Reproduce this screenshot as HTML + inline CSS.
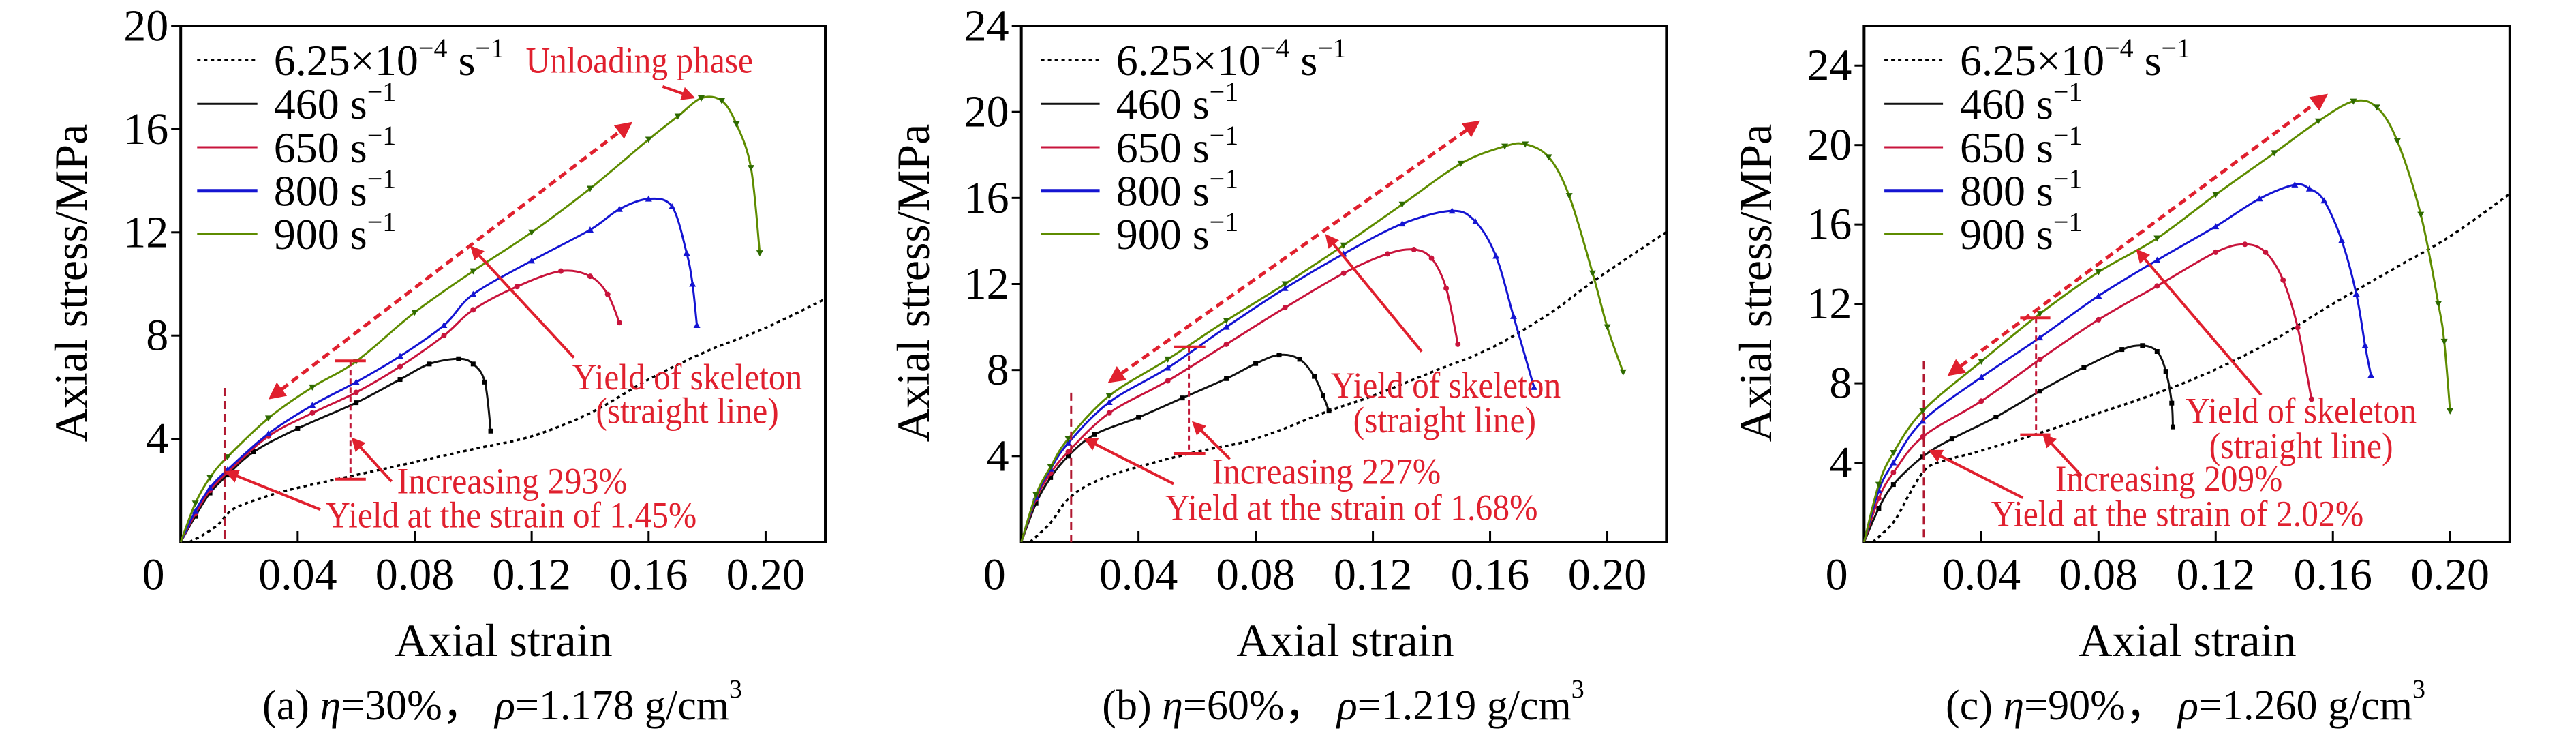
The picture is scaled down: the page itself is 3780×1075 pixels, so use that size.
<!DOCTYPE html>
<html><head><meta charset="utf-8">
<style>
html,body{margin:0;padding:0;background:#fff;}
svg{display:block;}
svg text{font-family:"Liberation Serif","Times New Roman",serif !important;}
</style></head>
<body>
<svg id="fig" xmlns="http://www.w3.org/2000/svg" width="3780" height="1075" viewBox="0 0 3780 1075" font-family="Liberation Serif, serif">
<defs>
<marker id="ah" viewBox="0 0 10 10" refX="8" refY="5" markerWidth="5" markerHeight="5" orient="auto-start-reverse"><path d="M0,0 L10,5 L0,10 z" fill="#e0202e"/></marker>
</defs>
</svg>
<script>
// ---------- data (strain, stress MPa) ----------
const seriesNames = ["6.25×10⁻⁴ s⁻¹","460 s⁻¹","650 s⁻¹","800 s⁻¹","900 s⁻¹"];
const xTicks = [0.04,0.08,0.12,0.16,0.20];
const xTickLabels = ["0.04","0.08","0.12","0.16","0.20"];
const yTicksA = [4,8,12,16,20];
const yTicksB = [4,8,12,16,20,24];
const yTicksC = [4,8,12,16,20,24];

const aQS  = [[0.003,0],[0.008,0.3],[0.013,0.7],[0.016,1.1],[0.02,1.4],[0.03,1.8],[0.04,2.1],[0.06,2.6],[0.08,3.1],[0.1,3.6],[0.12,4.1],[0.14,5.0],[0.16,6.3],[0.18,7.4],[0.2,8.3],[0.22,9.4]];
const a460 = [[0,0],[0.005,1.0],[0.01,1.9],[0.016,2.6],[0.025,3.5],[0.04,4.4],[0.06,5.4],[0.075,6.3],[0.085,6.9],[0.095,7.1],[0.1,6.9],[0.104,6.2],[0.106,4.3]];
const a650 = [[0,0],[0.005,1.1],[0.01,2],[0.016,2.7],[0.03,4.1],[0.045,5.0],[0.06,5.8],[0.075,6.8],[0.09,8],[0.1,9],[0.115,9.9],[0.13,10.5],[0.14,10.3],[0.146,9.6],[0.15,8.5]];
const a800 = [[0,0],[0.005,1.2],[0.01,2.1],[0.016,2.8],[0.03,4.2],[0.045,5.3],[0.06,6.2],[0.075,7.2],[0.09,8.4],[0.1,9.6],[0.12,10.9],[0.14,12.1],[0.15,12.9],[0.16,13.3],[0.168,13],[0.173,11.2],[0.175,10],[0.1765,8.4]];
const a900 = [[0,0],[0.005,1.5],[0.01,2.5],[0.016,3.3],[0.03,4.8],[0.045,6.0],[0.06,7],[0.08,8.9],[0.1,10.5],[0.12,12],[0.14,13.7],[0.16,15.6],[0.17,16.5],[0.178,17.2],[0.185,17.1],[0.19,16.2],[0.195,14.5],[0.198,11.2]];

const bQS  = [[0.003,0],[0.01,0.9],[0.016,2.0],[0.025,2.8],[0.04,3.5],[0.06,4.2],[0.08,4.8],[0.105,6.1],[0.12,6.8],[0.14,7.9],[0.16,9.0],[0.18,10.6],[0.196,12.2],[0.22,14.4]];
const b460 = [[0,0],[0.005,1.8],[0.01,3],[0.016,4],[0.025,5],[0.04,5.8],[0.055,6.7],[0.07,7.6],[0.08,8.3],[0.088,8.7],[0.095,8.5],[0.1,7.7],[0.103,6.8],[0.105,6.1]];
const b650 = [[0,0],[0.005,2],[0.01,3.2],[0.016,4.2],[0.03,6],[0.05,7.5],[0.07,9.2],[0.09,10.9],[0.11,12.5],[0.125,13.4],[0.134,13.6],[0.14,13.2],[0.145,11.8],[0.149,9.2]];
const b800 = [[0,0],[0.005,2.1],[0.01,3.4],[0.016,4.6],[0.03,6.5],[0.05,8.1],[0.07,10],[0.09,11.8],[0.11,13.4],[0.13,14.8],[0.147,15.4],[0.155,14.9],[0.162,13.3],[0.168,10.5],[0.175,7.2]];
const b900 = [[0,0],[0.005,2.2],[0.01,3.5],[0.016,4.8],[0.03,6.8],[0.05,8.5],[0.07,10.3],[0.09,12],[0.11,13.8],[0.13,15.7],[0.15,17.6],[0.165,18.4],[0.172,18.5],[0.18,17.9],[0.187,16.1],[0.195,12.5],[0.2,10],[0.2054,7.9]];

const cQS  = [[0.003,0],[0.01,1.0],[0.015,2.3],[0.02,3.5],[0.025,4.0],[0.04,4.6],[0.06,5.5],[0.08,6.5],[0.1,7.5],[0.12,8.7],[0.14,10.2],[0.16,12],[0.18,13.7],[0.2,15.4],[0.22,17.5]];
const c460 = [[0,0],[0.005,1.7],[0.01,2.9],[0.02,4.3],[0.03,5.2],[0.045,6.3],[0.06,7.6],[0.075,8.8],[0.088,9.7],[0.095,9.9],[0.1,9.6],[0.103,8.6],[0.105,7.0],[0.1054,5.8]];
const c650 = [[0,0],[0.005,2.2],[0.01,3.5],[0.02,5.3],[0.04,7.1],[0.06,9.2],[0.08,11.2],[0.1,12.9],[0.12,14.6],[0.13,15.0],[0.137,14.6],[0.143,13.2],[0.148,10.8],[0.1527,7.2]];
const c800 = [[0,0],[0.005,2.6],[0.01,4.0],[0.02,6.1],[0.04,8.3],[0.06,10.3],[0.08,12.4],[0.1,14.2],[0.12,15.9],[0.135,17.3],[0.147,18],[0.152,17.8],[0.157,17.2],[0.163,15.2],[0.168,12.5],[0.171,9.9],[0.173,8.4]];
const c900 = [[0,0],[0.005,2.9],[0.01,4.5],[0.02,6.6],[0.04,9.1],[0.06,11.5],[0.08,13.6],[0.1,15.3],[0.12,17.5],[0.14,19.6],[0.155,21.2],[0.167,22.2],[0.175,21.9],[0.182,20.2],[0.19,16.5],[0.196,12],[0.198,10.1],[0.2,6.6]];

const SX=1/1.2444, SY=1/1.4586;
const NS="http://www.w3.org/2000/svg";
const svg=document.getElementById('fig');
function el(tag,attrs,parent){const e=document.createElementNS(NS,tag);for(const k in attrs)e.setAttribute(k,attrs[k]);if(tag==='text')e.setAttribute('font-family','Liberation Serif, serif');(parent||svg).appendChild(e);return e;}
function smooth(pts){let d="M"+pts[0][0]+","+pts[0][1];for(let i=0;i<pts.length-1;i++){const p0=pts[Math.max(i-1,0)],p1=pts[i],p2=pts[i+1],p3=pts[Math.min(i+2,pts.length-1)];const c1=[p1[0]+(p2[0]-p0[0])/6,p1[1]+(p2[1]-p0[1])/6],c2=[p2[0]-(p3[0]-p1[0])/6,p2[1]-(p3[1]-p1[1])/6];d+=" C"+c1[0].toFixed(1)+","+c1[1].toFixed(1)+" "+c2[0].toFixed(1)+","+c2[1].toFixed(1)+" "+p2[0].toFixed(1)+","+p2[1].toFixed(1);}return d;}

const colors=["#000","#111","#c8143c","#1414d2","#5e8c00"];
const markerCols=["#000","#000","#c8143c","#1414d2","#2e6a00"];

const panels=[
 {id:"a",ox:0,zl:330,zr:1507,zx0:330,zx20:1398,ymax:20,yTicks:yTicksA,series:[aQS,a460,a650,a800,a900],legX:[360,470,500],ytx:104,xtx:739,cap:737,zero:280,
  cap1:"(a) ",eta:"=30%，",rho:"=1.178 g/cm",
  ann:{vd:[410,830],arr:[495,850,1150,265],br:[640,772,1025,612,668],barr:[715,1030,645,940],inc:["Increasing 293%",725,1055,420],yl:["Yield at the strain of 1.45%",595,1128,677],yarr:[585,1090,415,1010],sarr:[1048,765,862,530],sk:[1045,833,420],sl:[1088,905,334],unl:true}},
 {id:"b",ox:1260,zl:297,zr:1475,zx0:297,zx20:1367,ymax:24,yTicks:yTicksB,series:[bQS,b460,b650,b800,b900],legX:[333,440,470],ytx:80,xtx:714,cap:711,zero:248,
  cap1:"(b) ",eta:"=60%，",rho:"=1.219 g/cm",
  ann:{vd:[388,840],arr:[460,815,1130,262],br:[603,742,970,575,633],barr:[678,982,612,905],inc:["Increasing 227%",645,1035,418],yl:["Yield at the strain of 1.68%",560,1112,680],yarr:[575,1035,415,940],sarr:[1028,752,855,505],sk:[862,850,420],sl:[903,925,334],unl:false}},
 {id:"c",ox:2520,zl:268,zr:1447,zx0:268,zx20:1338,ymax:26,yTicks:yTicksC,series:[cQS,c460,c650,c800,c900],legX:[305,412,443],ytx:56,xtx:690,cap:687,zero:218,
  cap1:"(c) ",eta:"=90%，",rho:"=1.260 g/cm",
  ann:{vd:[377,772],arr:[425,800,1110,205],br:[582,680,930,553,608],barr:[665,1018,597,932],inc:["Increasing 209%",617,1050,415],yl:["Yield at the strain of 2.02%",500,1125,680],yarr:[558,1065,390,965],sarr:[993,845,768,537],sk:[855,905,422],sl:[898,980,336],unl:false}}
];

const plotTop=38, plotBot=795;
panels.forEach(P=>{
  const g=el('g',{});
  
  
  const L=P.ox+P.zl*SX, R=P.ox+P.zr*SX;
  const x0=P.ox+P.zx0*SX, x20=P.ox+P.zx20*SX;
  const X=v=>x0+(x20-x0)*v/0.2;
  const Y=v=>plotBot-(plotBot-plotTop)*v/P.ymax;
  const Z=(zx,zy)=>[P.ox+zx*SX, zy*SY];
  const fr=el('rect',{x:L,y:plotTop,width:R-L,height:plotBot-plotTop,fill:"none",stroke:"#000","stroke-width":4},g);
  
  
  xTicks.forEach((t,i)=>{
    const tk=el('line',{x1:X(t),x2:X(t),y1:plotBot,y2:plotBot-16,stroke:"#000","stroke-width":3},g);
    
    
    const tl=el('text',{x:X(t),y:843,"font-size":66,"text-anchor":"middle","dominant-baseline":"central"},g);
    tl.textContent=xTickLabels[i];
    
    
  });
  const z=el('text',{x:P.ox+P.zero*SX,y:843,"font-size":66,"text-anchor":"middle","dominant-baseline":"central"},g);
  z.textContent="0";
  
  
  P.yTicks.forEach(t=>{
    const tk=el('line',{x1:L-14,x2:L,y1:Y(t),y2:Y(t),stroke:"#000","stroke-width":3},g);
    
    
    const tl=el('text',{x:L-18,y:Y(t),"font-size":66,"text-anchor":"end","dominant-baseline":"central"},g);
    tl.textContent=String(t);
    
    
  });
  const yt=el('text',{x:P.ox+P.ytx,y:415,"font-size":68,"text-anchor":"middle","dominant-baseline":"central",transform:`rotate(-90 ${P.ox+P.ytx} 415)`},g);
  yt.textContent="Axial stress/MPa";
  
  
  const xt=el('text',{x:P.ox+P.xtx,y:939,"font-size":68,"text-anchor":"middle","dominant-baseline":"central"},g);
  xt.textContent="Axial strain";
  
  
  const cp=el('text',{x:P.ox+P.cap,y:1035,"font-size":62,"text-anchor":"middle","dominant-baseline":"central"},g);
  
  
  cp.innerHTML=P.cap1+'<tspan font-style="italic">η</tspan>'+P.eta+' <tspan font-style="italic">ρ</tspan>'+P.rho+'<tspan dy="-24" font-size="38">3</tspan>';
  P.series.forEach((s,si)=>{
    const pts=s.map(p=>[X(p[0]),Y(p[1])]);
    const ln=el('path',{d:smooth(pts),fill:"none",stroke:colors[si],"stroke-width":si==0?3.5:3,"stroke-dasharray":si==0?"5 5":"none"},g);
    
    
    if(si>0){
      pts.slice(1).forEach(p=>{
        let m;
        if(si==1) m=el('rect',{x:p[0]-3.5,y:p[1]-3.5,width:7,height:7,fill:markerCols[si]},g);
        else if(si==2) m=el('circle',{cx:p[0],cy:p[1],r:4,fill:markerCols[si]},g);
        else if(si==3) m=el('path',{d:`M${p[0]},${p[1]-5}L${p[0]+5},${p[1]+4}L${p[0]-5},${p[1]+4}z`,fill:markerCols[si]},g);
        else m=el('path',{d:`M${p[0]},${p[1]+5}L${p[0]+5},${p[1]-4}L${p[0]-5},${p[1]-4}z`,fill:markerCols[si]},g);
        
        
      });
    }
  });
  const rows=[128,222,315,408,500];
  rows.forEach((ry,i)=>{
    const y=ry*SY;
    const lg=el('line',{x1:P.ox+P.legX[0]*SX,x2:P.ox+P.legX[1]*SX,y1:y,y2:y,stroke:colors[i],"stroke-width":i==3?5:3,"stroke-dasharray":i==0?"5 5":"none"},g);
    
    
    const lt=el('text',{x:P.ox+P.legX[2]*SX,y:y+22,"font-size":64},g);
    
    
    if(i==0) lt.innerHTML='6.25×10<tspan dy="-26" font-size="40">−4</tspan><tspan dy="26"> s</tspan><tspan dy="-26" font-size="40">−1</tspan>';
    else lt.innerHTML=seriesNames[i].split(' ')[0]+' s<tspan dy="-26" font-size="40">−1</tspan>';
  });
  const A=P.ann, red="#e0202e";
  let p1=Z(A.vd[0],A.vd[1]), p2=Z(A.vd[0],1160);
  let e=el('line',{x1:p1[0],y1:p1[1],x2:p2[0],y2:p2[1],stroke:"#b01830","stroke-width":3,"stroke-dasharray":"12 7"},g);
  
  
  p1=Z(A.arr[0],A.arr[1]); p2=Z(A.arr[2],A.arr[3]);
  e=el('line',{x1:p1[0],y1:p1[1],x2:p2[0],y2:p2[1],stroke:red,"stroke-width":5,"stroke-dasharray":"12 7","marker-start":"url(#ah)","marker-end":"url(#ah)"},g);
  
  
  p1=Z(A.br[0],A.br[1]); p2=Z(A.br[0],A.br[2]);
  e=el('line',{x1:p1[0],y1:p1[1],x2:p2[0],y2:p2[1],stroke:"#c01838","stroke-width":3,"stroke-dasharray":"8 5"},g);
  
  
  [A.br[1],A.br[2]].forEach(yy=>{const a=Z(A.br[3],yy),b=Z(A.br[4],yy);const c=el('line',{x1:a[0],y1:a[1],x2:b[0],y2:b[1],stroke:red,"stroke-width":4},g);
    
    });
  [[A.barr,'increase-arrow'],[A.yarr,'yield-arrow'],[A.sarr,'skeleton-arrow']].forEach(([ar,nm])=>{
    const a=Z(ar[0],ar[1]),b=Z(ar[2],ar[3]);
    const c=el('line',{x1:a[0],y1:a[1],x2:b[0],y2:b[1],stroke:red,"stroke-width":4,"marker-end":"url(#ah)"},g);
    
    
  });
  [[A.inc,'increase-label'],[A.yl,'yield-strain-label']].forEach(([t,nm])=>{
    const a=Z(t[1],t[2]);
    const tx=el('text',{x:a[0],y:a[1],"font-size":54,fill:red,textLength:t[3]*SX,lengthAdjust:"spacingAndGlyphs"},g);
    tx.textContent=t[0];
    
    
  });
  let a=Z(A.sk[0],A.sk[1]);
  e=el('text',{x:a[0],y:a[1],"font-size":54,fill:red,textLength:A.sk[2]*SX,lengthAdjust:"spacingAndGlyphs"},g);
  e.textContent="Yield of skeleton";
  
  
  a=Z(A.sl[0],A.sl[1]);
  e=el('text',{x:a[0],y:a[1],"font-size":54,fill:red,textLength:A.sl[2]*SX,lengthAdjust:"spacingAndGlyphs"},g);
  e.textContent="(straight line)";
  
  
  if(A.unl){
    a=Z(960,155);
    e=el('text',{x:a[0],y:a[1],"font-size":54,fill:red,textLength:415*SX,lengthAdjust:"spacingAndGlyphs"},g);
    e.textContent="Unloading phase";
    
    
    const u1=Z(1210,185),u2=Z(1265,208);
    e=el('line',{x1:u1[0],y1:u1[1],x2:u2[0],y2:u2[1],stroke:red,"stroke-width":4,"marker-end":"url(#ah)"},g);
    
    
  }
});
</script>
</body></html>
